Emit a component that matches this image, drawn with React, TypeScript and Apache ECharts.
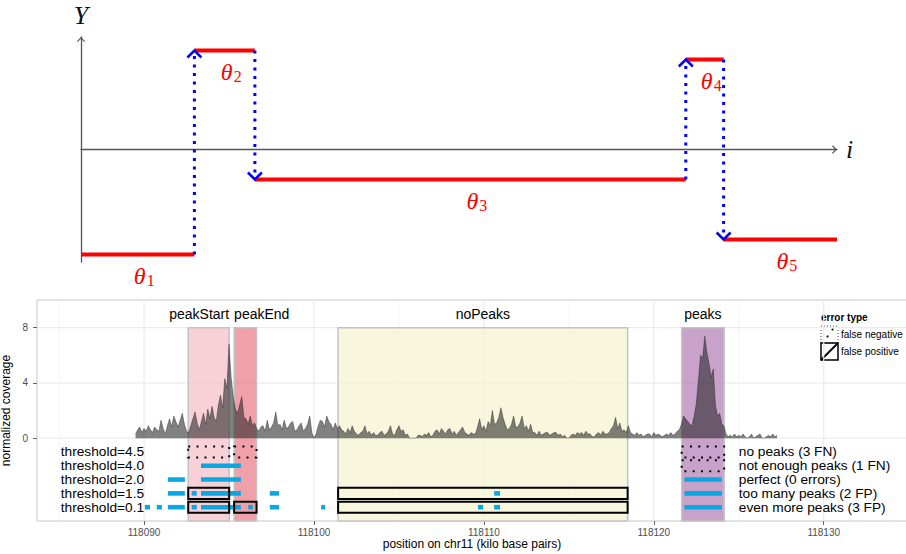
import React, { useEffect, useRef } from 'react';
import * as echarts from 'echarts';

// ---------- top diagram (piecewise constant signal) ----------
const stepBreaks = [0, 15, 23, 80, 85, 100];
const thetaValues = [-3.5, 3.3, -1, 3, -3];
const thetaSubscripts = ['1', '2', '3', '4', '5'];

// ---------- bottom chart ----------
const regionNames = ['peakStart', 'peakEnd', 'noPeaks', 'peaks'];
const regionStarts = [118092.6, 118095.3, 118101.42, 118121.64];
const regionEnds = [118095.01, 118096.62, 118118.46, 118124.14];

// normalized coverage, one value every 0.125 kb starting at 118089.5
const coverageStart = 118089.5;
const coverageStep = 0.125;
const coverageValues = [
  0.3, 0.6, 0.8, 0.4, 0.7, 0.5, 0.9, 0.6,
  0.4, 0.8, 0.6, 0.5, 1.3, 0.7, 0.3, 0.9,
  1.4, 0.8, 1.6, 1.2, 0.8, 1.3, 1.8, 1.0,
  0.5, 0.4, 0.9, 1.4, 1.9, 1.1, 0.6, 1.2,
  1.8, 1.0, 2.1, 1.4, 2.3, 1.5, 1.2, 2.4,
  3.1, 2.2, 4.3, 3.6, 6.8, 4.4, 3.0, 2.1,
  1.8, 2.4, 3.0, 1.5, 1.4, 1.0, 1.6, 0.9,
  1.1, 0.7, 0.5, 0.8, 0.9, 0.5, 1.3, 0.6,
  0.8, 1.1, 1.9, 0.9, 1.0, 0.6, 1.3, 0.7,
  0.8, 1.1, 1.2, 0.5, 0.6, 0.9, 1.1, 0.5,
  0.7, 1.0, 1.6, 0.4, 0.0, 0.3, 0.9, 1.3,
  1.2, 0.8, 1.6, 1.2, 1.0, 0.6, 1.1, 0.7,
  0.9, 0.6, 0.5, 0.3, 0.7, 0.4, 0.9, 0.5,
  0.3, 0.2, 0.4, 0.5, 0.9, 0.3, 0.5, 0.2,
  0.4, 0.2, 0.2, 0.4, 0.5, 0.2, 0.3, 0.5,
  0.9, 0.3, 0.2, 0.6, 0.9, 0.5, 0.6, 0.2,
  0.3, 0.0, 0.0, 0.0, 0.0, 0.2, 0.2, 0.1,
  0.3, 0.2, 0.4, 0.1, 0.2, 0.5, 0.6, 0.3,
  0.7, 0.5, 0.3, 0.6, 0.7, 0.3, 0.5, 0.2,
  0.4, 0.6, 0.8, 0.4, 0.3, 0.2, 0.4, 0.3,
  0.3, 0.8, 1.4, 0.6, 0.9, 0.5, 1.2, 0.9,
  2.0, 1.0, 1.1, 1.5, 2.2, 1.5, 1.0, 0.6,
  0.7, 1.0, 1.6, 0.8, 0.8, 1.1, 1.6, 0.7,
  0.9, 0.5, 1.0, 0.4, 0.4, 0.2, 0.5, 0.2,
  0.3, 0.4, 0.4, 0.2, 0.3, 0.4, 0.4, 0.2,
  0.3, 0.1, 0.2, 0.0, 0.0, 0.2, 0.3, 0.2,
  0.4, 0.3, 0.4, 0.2, 0.5, 0.3, 0.3, 0.1,
  0.1, 0.3, 0.4, 0.2, 0.5, 0.3, 0.3, 0.4,
  0.7, 0.9, 1.5, 0.7, 1.1, 0.5, 0.6, 0.4,
  0.9, 0.4, 0.3, 0.2, 0.4, 0.2, 0.3, 0.1,
  0.2, 0.3, 0.3, 0.1, 0.4, 0.2, 0.3, 0.2,
  0.1, 0.2, 0.3, 0.2, 0.4, 0.2, 0.3, 0.5,
  0.6, 1.0, 1.6, 1.4, 1.2, 1.0, 0.9, 1.6,
  2.5, 4.2, 6.0, 5.8, 7.4, 6.2, 5.4, 4.4,
  5.0, 2.4, 1.6, 1.8, 1.0, 0.9, 0.3, 0.1,
  0.2, 0.1, 0.3, 0.1, 0.2, 0.1, 0.3, 0.1,
  0.0, 0.1, 0.3, 0.0, 0.1, 0.2, 0.3, 0.0,
  0.0, 0.1, 0.2, 0.1, 0.3, 0.1, 0.2,
];

const xTicks = [118090, 118100, 118110, 118120, 118130];
const yTicks = [0, 4, 8];

const thresholdLabels = ['threshold=4.5', 'threshold=4.0', 'threshold=2.0', 'threshold=1.5', 'threshold=0.1'];
const errorLabels = ['no peaks (3 FN)', 'not enough peaks (1 FN)', 'perfect (0 errors)', 'too many peaks (2 FP)', 'even more peaks (3 FP)'];
const thresholdLabelX = 118090;
const errorLabelX = 118125;
const regionLabelY = 9;

const peakCalls: number[][][] = [
  [],
  [[118093.35, 118095.7]],
  [[118091.4, 118092.4], [118093.35, 118095.7], [118121.8, 118124.0]],
  [[118091.4, 118092.4], [118092.8, 118093.1], [118093.35, 118095.7], [118097.4, 118097.95], [118110.6, 118110.95], [118121.8, 118124.0]],
  [[118090.05, 118090.35], [118090.75, 118091.05], [118091.4, 118092.4], [118092.8, 118093.1], [118093.35, 118095.7], [118096.13, 118096.4], [118097.4, 118097.95], [118100.42, 118100.65], [118109.65, 118109.95], [118110.6, 118110.95], [118121.8, 118124.0]],
];

const errorRows = [0, 0, 0, 1, 3, 3, 4, 4, 4];
const errorRegions = ['peakStart', 'peakEnd', 'peaks', 'peaks', 'peakStart', 'noPeaks', 'peakStart', 'peakEnd', 'noPeaks'];
const errorTypes = ['FN', 'FN', 'FN', 'FN', 'FP', 'FP', 'FP', 'FP', 'FP'];

// ---------- styling ----------
const SANS = '"Liberation Sans", Arial, Helvetica, sans-serif';
const SERIF = '"Liberation Serif", "DejaVu Serif", serif';
const regionFill: Record<string, string> = {
  peakStart: 'rgba(244,189,198,0.7)',
  peakEnd: 'rgba(234,119,131,0.7)',
  noPeaks: 'rgba(245,242,205,0.7)',
  peaks: 'rgba(178,122,181,0.7)',
};
const ARROW = 'path://M5,0 L10,5 L9,6 L5,2 L1,6 L0,5 Z M5,-6 L5.01,-6 L5,-5.99 Z';
const X_MIN = 118083.7;
const X_MAX = 118134.9;
const Y_MIN = -6;
const Y_MAX = 10;

function buildOption(): any {
  const segData = thetaValues.map((v, i) => [stepBreaks[i], stepBreaks[i + 1], v, i]);
  const jumpData = thetaValues.slice(0, -1).map((v, i) => [stepBreaks[i + 1], v, thetaValues[i + 1]]);
  const minorX = xTicks.map((v) => v - 5).concat([xTicks[xTicks.length - 1] + 5]);
  const vGrid = xTicks.map((v) => [v, 1]).concat(minorX.map((v) => [v, 0]));
  const hGrid = yTicks.map((v) => [v]);
  const regionData = regionNames.map((n, i) => [regionStarts[i], regionEnds[i], i]);
  const coverageData = coverageValues.map((v, i) => [coverageStart + i * coverageStep, v]);
  const callData: number[][] = [];
  peakCalls.forEach((row, r) => row.forEach((seg) => callData.push([seg[0], seg[1], -(r + 1)])));
  const errorData = errorRows.map((r, i) => {
    const ri = regionNames.indexOf(errorRegions[i]);
    return [regionStarts[ri], regionEnds[ri], -(r + 1), errorTypes[i] === 'FN' ? 1 : 0];
  });
  const thrData = thresholdLabels.map((t, i) => [thresholdLabelX, -(i + 1), i]);
  const errLabData = errorLabels.map((t, i) => [errorLabelX, -(i + 1), i]);
  const regLabData = regionNames.map((n, i) => {
    let x = (regionStarts[i] + regionEnds[i]) / 2;
    if (n === 'peakStart') x = regionEnds[i];
    if (n === 'peakEnd') x = regionStarts[i];
    return [x, regionLabelY, i];
  });

  const txt = (text: string, size: number, align: string, extra: any = {}) => ({
    text,
    fill: '#000',
    fontSize: size,
    fontFamily: SANS,
    align,
    textAlign: align,
    verticalAlign: 'middle',
    textVerticalAlign: 'middle',
    ...extra,
  });

  return {
    animation: false,
    backgroundColor: '#ffffff',
    grid: [
      { left: 81, top: 37, width: 756, height: 225, show: false, containLabel: false, outerBoundsMode: 'none' },
      { left: 37, top: 300, right: -1, bottom: 33, show: true, borderColor: '#c8c8c8', borderWidth: 1, backgroundColor: 'transparent', containLabel: false, outerBoundsMode: 'none' },
    ],
    xAxis: [
      {
        gridIndex: 0, type: 'value', min: 0, max: 100,
        axisLine: { show: true, onZero: true, symbol: ['none', ARROW], symbolSize: [9, 10], lineStyle: { color: '#555', width: 1.3 } },
        axisTick: { show: false }, axisLabel: { show: false }, splitLine: { show: false },
        name: 'i', nameLocation: 'end', nameGap: 9,
        nameTextStyle: { fontSize: 26, fontStyle: 'italic', fontFamily: SERIF, color: '#111' },
      },
      {
        gridIndex: 1, type: 'value', min: X_MIN, max: X_MAX,
        axisLine: { show: false, onZero: false },
        axisTick: { show: true, customValues: xTicks, length: 4, lineStyle: { color: '#666', width: 1 } },
        axisLabel: { show: true, customValues: xTicks, fontSize: 10, color: '#4d4d4d', margin: 6, fontFamily: SANS, formatter: (v: number) => String(Math.round(v)) },
        splitLine: { show: false },
        name: 'position on chr11 (kilo base pairs)', nameLocation: 'middle', nameGap: 16,
        nameTextStyle: { fontSize: 12, color: '#000', fontFamily: SANS },
      },
    ],
    yAxis: [
      {
        gridIndex: 0, type: 'value', min: -3.75, max: 3.75,
        axisLine: { show: true, onZero: true, symbol: ['none', ARROW], symbolSize: [9, 10], lineStyle: { color: '#555', width: 1.3 } },
        axisTick: { show: false }, axisLabel: { show: false }, splitLine: { show: false },
        name: 'Y', nameLocation: 'end', nameGap: 9,
        nameTextStyle: { fontSize: 26, fontStyle: 'italic', fontFamily: SERIF, color: '#111' },
      },
      {
        gridIndex: 1, type: 'value', min: Y_MIN, max: Y_MAX,
        axisLine: { show: false, onZero: false },
        axisTick: { show: true, customValues: yTicks, length: 4, lineStyle: { color: '#666', width: 1 } },
        axisLabel: { show: true, customValues: yTicks, fontSize: 10, color: '#4d4d4d', margin: 9, fontFamily: SANS },
        splitLine: { show: false },
        name: 'normalized coverage', nameLocation: 'middle', nameGap: 15,
        nameTextStyle: { fontSize: 12, color: '#000', fontFamily: SANS },
      },
    ],
    series: [
      {
        type: 'custom', xAxisIndex: 0, yAxisIndex: 0, z: 3, silent: true, data: segData,
        renderItem: (params: any, api: any) => {
          const v = api.value(2);
          const idx = api.value(3);
          const a = api.coord([api.value(0), v]);
          const b = api.coord([api.value(1), v]);
          const mid = (a[0] + b[0]) / 2;
          return {
            type: 'group',
            children: [
              { type: 'line', shape: { x1: a[0], y1: a[1], x2: b[0], y2: b[1] }, style: { stroke: '#ff0000', lineWidth: 4 } },
              { type: 'text', x: mid + 2, y: a[1] + 21, style: { text: 'θ', fill: '#ff0000', fontSize: 24, fontStyle: 'italic', fontFamily: SERIF, align: 'center', textAlign: 'center', verticalAlign: 'middle', textVerticalAlign: 'middle' } },
              { type: 'text', x: mid + 13, y: a[1] + 26, style: { text: thetaSubscripts[idx], fill: '#ff0000', fontSize: 16, fontFamily: SERIF, align: 'center', textAlign: 'center', verticalAlign: 'middle', textVerticalAlign: 'middle' } },
            ],
          };
        },
      },
      {
        type: 'custom', xAxisIndex: 0, yAxisIndex: 0, z: 4, silent: true, data: jumpData,
        renderItem: (params: any, api: any) => {
          const f = api.coord([api.value(0), api.value(1)]);
          const t = api.coord([api.value(0), api.value(2)]);
          const dir = t[1] > f[1] ? 1 : -1;
          return {
            type: 'group',
            children: [
              { type: 'line', shape: { x1: f[0], y1: f[1], x2: t[0], y2: t[1] - dir * 2 }, style: { stroke: '#0000ff', lineWidth: 3, lineDash: [3, 5.5], lineCap: 'butt' } },
              { type: 'polyline', shape: { points: [[t[0] - 7, t[1] - dir * 7], [t[0], t[1]], [t[0] + 7, t[1] - dir * 7]] }, style: { stroke: '#0000ff', lineWidth: 2.5, fill: 'none' } },
            ],
          };
        },
      },
      {
        type: 'custom', xAxisIndex: 1, yAxisIndex: 1, z: 1, silent: true, data: vGrid,
        renderItem: (params: any, api: any) => {
          const a = api.coord([api.value(0), Y_MIN]);
          const b = api.coord([api.value(0), Y_MAX]);
          const major = api.value(1) === 1;
          return { type: 'line', shape: { x1: a[0], y1: a[1], x2: b[0], y2: b[1] }, style: { stroke: major ? '#ebebeb' : '#f3f3f3', lineWidth: major ? 1.2 : 0.8 } };
        },
      },
      {
        type: 'custom', xAxisIndex: 1, yAxisIndex: 1, z: 1, silent: true, data: hGrid,
        renderItem: (params: any, api: any) => {
          const a = api.coord([X_MIN, api.value(0)]);
          const b = api.coord([X_MAX, api.value(0)]);
          return { type: 'line', shape: { x1: a[0], y1: a[1], x2: b[0], y2: b[1] }, style: { stroke: '#ebebeb', lineWidth: 1.2 } };
        },
      },
      {
        type: 'custom', xAxisIndex: 1, yAxisIndex: 1, z: 2, silent: true, data: regionData,
        renderItem: (params: any, api: any) => {
          const p1 = api.coord([api.value(0), 8]);
          const p2 = api.coord([api.value(1), Y_MIN]);
          const name = regionNames[api.value(2)];
          return { type: 'rect', shape: { x: p1[0], y: p1[1], width: p2[0] - p1[0], height: p2[1] - p1[1] }, style: { fill: regionFill[name], stroke: '#c4c4c4', lineWidth: 1.5 } };
        },
      },
      {
        type: 'line', xAxisIndex: 1, yAxisIndex: 1, z: 3, silent: true, data: coverageData,
        symbol: 'none', showSymbol: false, smooth: false, sampling: undefined,
        lineStyle: { color: 'rgba(35,35,35,0.85)', width: 0.5 },
        areaStyle: { color: 'rgba(35,35,35,0.82)' },
      },
      {
        type: 'custom', xAxisIndex: 1, yAxisIndex: 1, z: 4, silent: true, data: callData,
        renderItem: (params: any, api: any) => {
          const a = api.coord([api.value(0), api.value(2)]);
          const b = api.coord([api.value(1), api.value(2)]);
          return { type: 'rect', shape: { x: a[0], y: a[1] - 2.3, width: b[0] - a[0], height: 4.6 }, style: { fill: '#0aa8e2' } };
        },
      },
      {
        type: 'custom', xAxisIndex: 1, yAxisIndex: 1, z: 5, silent: true, data: errorData,
        renderItem: (params: any, api: any) => {
          const y = api.value(2);
          const p1 = api.coord([api.value(0), y + 0.4]);
          const p2 = api.coord([api.value(1), y - 0.4]);
          const fn = api.value(3) === 1;
          return {
            type: 'rect',
            shape: { x: p1[0], y: p1[1], width: p2[0] - p1[0], height: p2[1] - p1[1] },
            style: fn
              ? { fill: 'none', stroke: '#000', lineWidth: 2, lineDash: [2, 6.3], lineCap: 'butt' }
              : { fill: 'none', stroke: '#000', lineWidth: 2 },
          };
        },
      },
      {
        type: 'custom', xAxisIndex: 1, yAxisIndex: 1, z: 6, silent: true, data: thrData,
        renderItem: (params: any, api: any) => {
          const p = api.coord([api.value(0), api.value(1)]);
          return { type: 'text', x: p[0], y: p[1], style: txt(thresholdLabels[api.value(2)], 13.7, 'right') };
        },
      },
      {
        type: 'custom', xAxisIndex: 1, yAxisIndex: 1, z: 6, silent: true, data: errLabData,
        renderItem: (params: any, api: any) => {
          const p = api.coord([api.value(0), api.value(1)]);
          return { type: 'text', x: p[0], y: p[1], style: txt(errorLabels[api.value(2)], 13.7, 'left') };
        },
      },
      {
        type: 'custom', xAxisIndex: 1, yAxisIndex: 1, z: 6, silent: true, data: regLabData,
        renderItem: (params: any, api: any) => {
          const p = api.coord([api.value(0), api.value(1)]);
          const n = regionNames[api.value(2)];
          const align = n === 'peakStart' ? 'right' : n === 'peakEnd' ? 'left' : 'center';
          return { type: 'text', x: p[0], y: p[1], style: txt(n, 14, align) };
        },
      },
    ],
    graphic: [
      { type: 'text', left: 821, top: 312, style: { text: 'error type', fontSize: 10, fontWeight: 'bold', fontFamily: SANS, fill: '#000' } },
      { type: 'rect', shape: { x: 821, y: 326, width: 17, height: 17 }, style: { fill: 'none', stroke: '#444', lineWidth: 1, lineDash: [1, 2] } },
      { type: 'circle', shape: { cx: 827.5, cy: 336.5, r: 1 }, style: { fill: '#000' } },
      { type: 'circle', shape: { cx: 832.5, cy: 329.5, r: 1 }, style: { fill: '#000' } },
      { type: 'rect', shape: { x: 821, y: 343, width: 17, height: 17 }, style: { fill: 'none', stroke: '#000', lineWidth: 1.5 } },
      { type: 'line', shape: { x1: 821, y1: 360, x2: 838, y2: 343 }, style: { stroke: '#000', lineWidth: 2 } },
      { type: 'text', left: 841, top: 329, style: { text: 'false negative', fontSize: 10, fontFamily: SANS, fill: '#000' } },
      { type: 'text', left: 841, top: 346, style: { text: 'false positive', fontSize: 10, fontFamily: SANS, fill: '#000' } },
    ],
  };
}

export default function App() {
  const ref = useRef<HTMLDivElement>(null);
  useEffect(() => {
    if (!ref.current) return;
    const chart = echarts.init(ref.current, undefined, { renderer: 'svg' });
    chart.setOption(buildOption());
    return () => chart.dispose();
  }, []);
  return <div ref={ref} style={{ position: 'absolute', left: 0, top: 0, width: 906, height: 554 }} />;
}
